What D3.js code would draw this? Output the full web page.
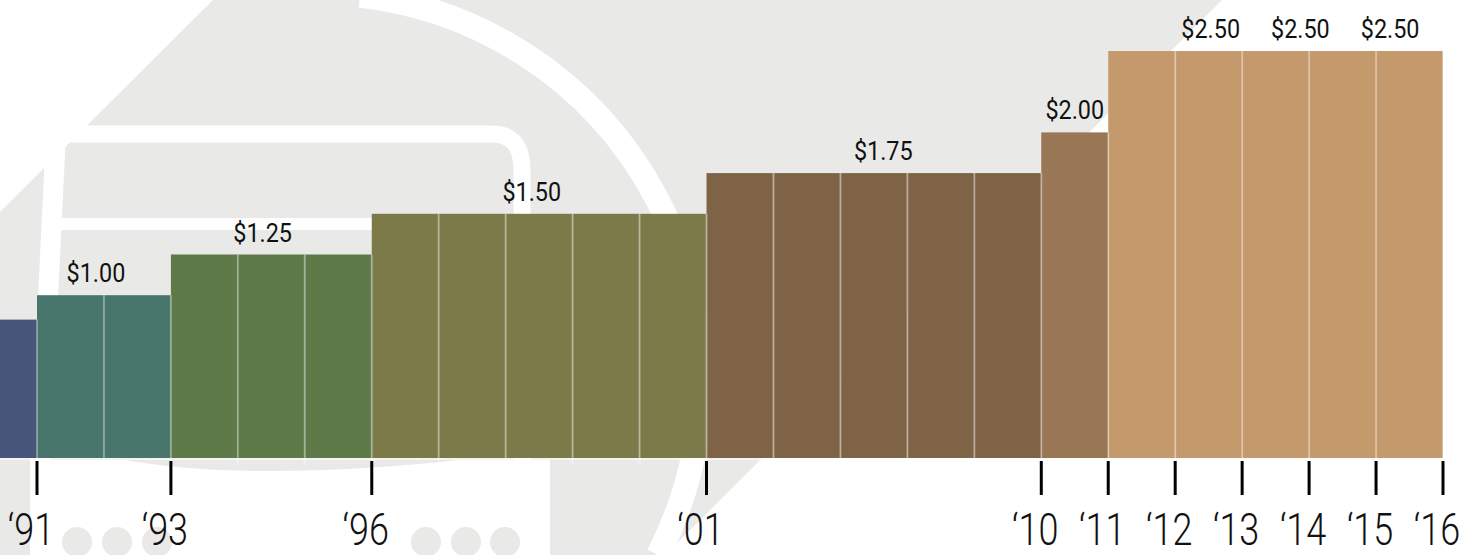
<!DOCTYPE html>
<html>
<head>
<meta charset="utf-8">
<script src="https://cdn.jsdelivr.net/npm/d3@7"></script>
<style>
  body { margin: 0; background: #fff; }
  svg { display: block; }
</style>
</head>
<body>
<div id="viz"></div>
<script>
// fare for each column, left to right (first one is cut off by the edge)
var fares = [0.85, 1.00, 1.00, 1.25, 1.25, 1.25, 1.50, 1.50, 1.50, 1.50, 1.50,
             1.75, 1.75, 1.75, 1.75, 1.75, 2.00, 2.50, 2.50, 2.50, 2.50, 2.50];

var fareLevels = [0.85, 1.00, 1.25, 1.50, 1.75, 2.00, 2.50];
var palette = ["#47567a", "#48756c", "#5e7a48", "#7c7a48", "#7e6346", "#997654", "#c4996c"];

// year ticks sit on column boundaries
var tickLabels = ["\u201891", "\u201893", "\u201896", "\u201801", "\u201810", "\u201811",
                  "\u201812", "\u201813", "\u201814", "\u201815", "\u201816"];
var tickAt = [1, 3, 6, 11, 16, 17, 18, 19, 20, 21, 22];

// fare labels above the steps
var fareLabels = ["$1.00", "$1.25", "$1.50", "$1.75", "$2.00", "$2.50", "$2.50", "$2.50"];
var fareLabelValue = [1.00, 1.25, 1.50, 1.75, 2.00, 2.50, 2.50, 2.50];
var fareLabelAt = [1.88, 4.37, 8.39, 13.64, 16.5, 18.53, 19.87, 21.21];

var width = 1466, height = 555;

var svg = d3.select('#viz').append('svg')
    .attr('width', width)
    .attr('height', height);

// ---- faint logo in the background
var bg = svg.append('g');
var grey = '#e9e9e7';

bg.append('path')
    .attr('d', 'M213,0 L1222,0 L665,555 L0,555 L0,212 Z')
    .attr('fill', grey);

// white cut-outs of the logo
bg.append('path')
    .attr('d', 'M30,555 V460 H125 Q250,482 460,460 H550 V555 Z')
    .attr('fill', '#fff');

bg.append('path')
    .attr('d', 'M60,134 H492 Q522,134 522,170 V460')
    .attr('fill', 'none')
    .attr('stroke', '#fff')
    .attr('stroke-width', 17);

bg.append('path')
    .attr('d', 'M56,134 L40,460')
    .attr('fill', 'none')
    .attr('stroke', '#fff')
    .attr('stroke-width', 20);

bg.append('path')
    .attr('d', 'M45,224 H380')
    .attr('stroke', '#fff')
    .attr('stroke-width', 12);

bg.append('path')
    .attr('d', 'M360,-4.5 A385,385 0 0 1 658,555')
    .attr('fill', 'none')
    .attr('stroke', '#fff')
    .attr('stroke-width', 24);

bg.selectAll('circle')
    .data([77, 117, 157, 426, 466, 505])
    .enter().append('circle')
        .attr('cx', function(d) { return d; })
        .attr('cy', 542)
        .attr('r', 15)
        .attr('fill', grey);

// ---- scales
var x = d3.scaleLinear()
    .domain([1, 22])
    .range([37, 1443]);

var y = d3.scaleLinear()
    .domain([0, 2.5])
    .range([458, 51]);

var color = d3.scaleOrdinal()
    .domain(fareLevels)
    .range(palette);

// ---- columns
var chart = svg.append('g');

chart.selectAll('rect')
    .data(fares)
    .enter().append('rect')
        .attr('x', function(d, i) { return x(i); })
        .attr('y', function(d) { return y(d); })
        .attr('width', function(d, i) { return x(i + 1) - x(i); })
        .attr('height', function(d) { return y(0) - y(d); })
        .attr('fill', function(d) { return color(d); });

// thin light dividers between columns
chart.selectAll('line.divider')
    .data(fares)
    .enter().append('line')
        .attr('class', 'divider')
        .attr('x1', function(d, i) { return x(i + 1); })
        .attr('x2', function(d, i) { return x(i + 1); })
        .attr('y1', function(d, i) { return y(i + 1 < fares.length ? Math.min(d, fares[i + 1]) : d); })
        .attr('y2', y(0) + 7)
        .attr('stroke', 'rgba(255,255,255,0.35)')
        .attr('stroke-width', 2);

chart.append('line')
    .attr('x1', x(0)).attr('x2', x(22))
    .attr('y1', y(0) + 1).attr('y2', y(0) + 1)
    .attr('stroke', 'rgba(255,255,255,0.5)')
    .attr('stroke-width', 2);

// ---- year axis
var xAxis = svg.append('g')
    .attr('transform', 'translate(0,' + (y(0) + 3) + ')');

xAxis.selectAll('line')
    .data(tickAt)
    .enter().append('line')
        .attr('x1', function(d) { return x(d); })
        .attr('x2', function(d) { return x(d); })
        .attr('y1', 0)
        .attr('y2', 34)
        .attr('stroke', '#000')
        .attr('stroke-width', 3);

// condensed light look: Roboto Light squeezed horizontally
xAxis.selectAll('text')
    .data(tickAt)
    .enter().append('text')
        .attr('transform', function(d) { return 'translate(' + (x(d) - 6) + ',84) scale(0.8,1)'; })
        .attr('text-anchor', 'middle')
        .style('font-family', 'Roboto, "Liberation Sans", sans-serif')
        .style('font-weight', 300)
        .style('font-size', '45px')
        .attr('fill', '#111')
        .text(function(d, i) { return tickLabels[i]; });

// ---- fare labels
svg.append('g').selectAll('text')
    .data(fareLabels)
    .enter().append('text')
        .attr('transform', function(d, i) {
            return 'translate(' + x(fareLabelAt[i]) + ',' + (y(fareLabelValue[i]) - 13) + ') scale(0.9,1)';
        })
        .attr('text-anchor', 'middle')
        .style('font-family', 'Roboto, "Liberation Sans", sans-serif')
        .style('font-size', '26px')
        .attr('fill', '#111')
        .text(function(d) { return d; });
</script>
</body>
</html>
